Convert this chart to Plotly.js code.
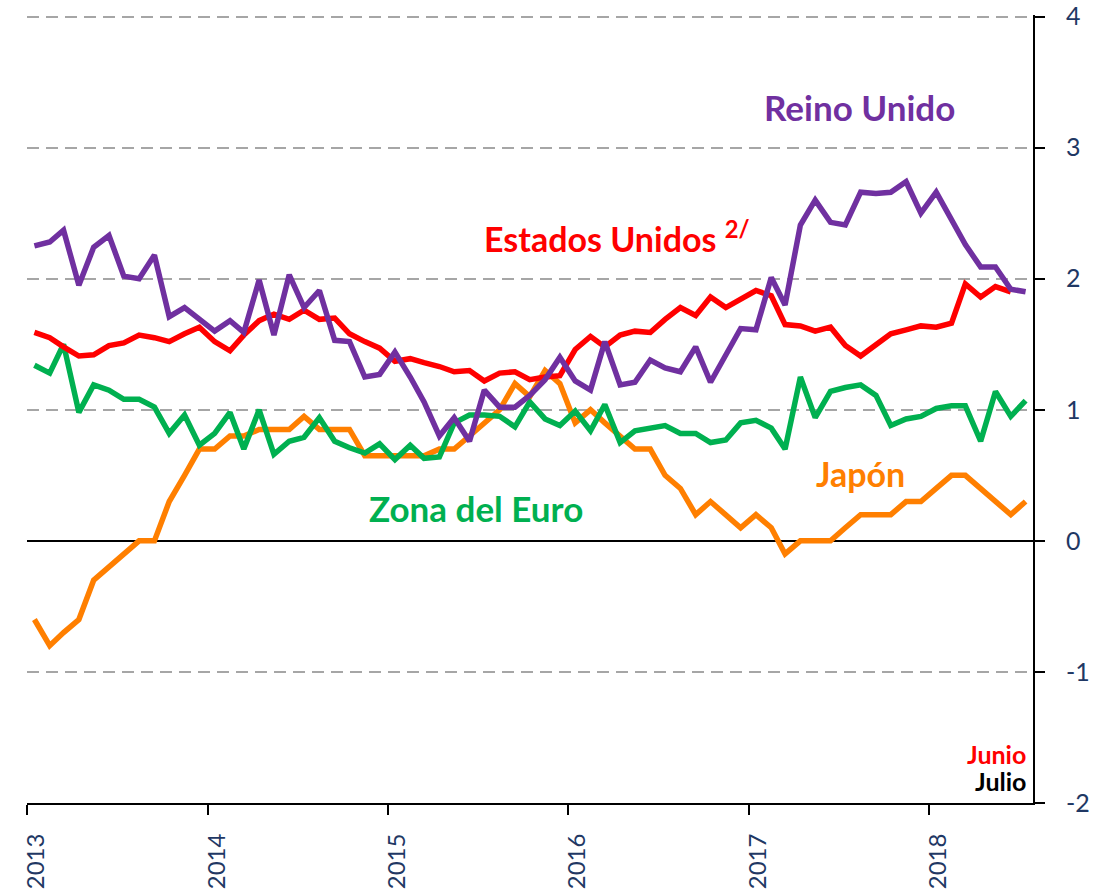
<!DOCTYPE html>
<html>
<head>
<meta charset="utf-8">
<script src="https://cdn.plot.ly/plotly-3.0.1.min.js"></script>
<style>
html,body{margin:0;padding:0;background:#fff;}
#chart{width:1107px;height:893px;}
</style>
</head>
<body>
<div id="chart"></div>
<script>
// Monthly observations, January 2013 - July 2018
var startYear = 2013;
var nMonths = 67;
var months = [];
for (var i = 0; i < nMonths; i++) {
  var y = startYear + Math.floor(i / 12);
  var m = (i % 12) + 1;
  months.push(y + '-' + (m < 10 ? '0' + m : m) + '-15');
}

var reinoUnido = [2.25,2.28,2.37,1.95,2.24,2.33,2.02,2.00,2.18,1.71,1.78,1.69,
  1.60,1.68,1.59,1.99,1.57,2.03,1.78,1.91,1.53,1.52,1.25,1.27,
  1.44,1.25,1.06,0.80,0.94,0.76,1.15,1.02,1.02,1.11,1.23,1.40,
  1.22,1.15,1.52,1.19,1.21,1.38,1.32,1.29,1.48,1.21,1.41,1.62,
  1.61,2.01,1.80,2.41,2.60,2.43,2.41,2.66,2.65,2.66,2.74,2.50,
  2.66,2.44,2.26,2.09,2.09,1.92,1.90];

var estadosUnidos = [1.59,1.55,1.48,1.41,1.42,1.49,1.51,1.57,1.55,1.52,1.58,1.63,
  1.52,1.45,1.57,1.68,1.73,1.69,1.76,1.69,1.70,1.58,1.52,1.47,
  1.37,1.39,1.36,1.33,1.29,1.30,1.22,1.28,1.29,1.23,1.25,1.26,
  1.46,1.56,1.48,1.57,1.60,1.59,1.69,1.78,1.72,1.86,1.78,1.85,
  1.91,1.87,1.65,1.64,1.60,1.63,1.49,1.41,1.49,1.58,1.61,1.64,
  1.63,1.66,1.96,1.86,1.94,1.90];

var zonaEuro = [1.34,1.28,1.50,0.98,1.19,1.15,1.08,1.08,1.02,0.82,0.96,0.73,
  0.82,0.98,0.70,1.00,0.66,0.76,0.79,0.94,0.76,0.71,0.67,0.74,
  0.62,0.73,0.63,0.64,0.90,0.96,0.96,0.95,0.87,1.06,0.93,0.88,
  0.99,0.84,1.04,0.75,0.84,0.86,0.88,0.82,0.82,0.75,0.77,0.90,
  0.92,0.86,0.70,1.25,0.94,1.14,1.17,1.19,1.11,0.88,0.93,0.95,
  1.01,1.03,1.03,0.76,1.14,0.95,1.07];

var japon = [-0.6,-0.8,-0.7,-0.6,-0.3,-0.2,-0.1,0.0,0.0,0.3,0.5,0.7,
  0.7,0.8,0.8,0.85,0.85,0.85,0.95,0.85,0.85,0.85,0.65,0.65,
  0.65,0.65,0.65,0.7,0.7,0.8,0.9,1.0,1.2,1.1,1.3,1.2,
  0.9,1.0,0.9,0.8,0.7,0.7,0.5,0.4,0.2,0.3,0.2,0.1,
  0.2,0.1,-0.1,0.0,0.0,0.0,0.1,0.2,0.2,0.2,0.3,0.3,
  0.4,0.5,0.5,0.4,0.3,0.2,0.3];

var yearTicks = ['2013-01-01','2014-01-01','2015-01-01','2016-01-01','2017-01-01','2018-01-01'];
var yearLabels = ['2013','2014','2015','2016','2017','2018'];
var yTickVals = [-2, -1, 0, 1, 2, 3, 4];
var yTickLabels = ['-2', '-1', '0', '1', '2', '3', '4'];

var colors = {uk:'#7030A0', us:'#FF0000', euro:'#00B050', jp:'#FF7F00'};
var FONT = 'Lato, "Open Sans", sans-serif';

function series(vals, color, name) {
  return {
    x: months.slice(0, vals.length), y: vals, name: name,
    type: 'scatter', mode: 'lines',
    line: {color: color, width: 5.5, shape: 'linear'},
    hoverinfo: 'x+y'
  };
}

var data = [
  series(japon, colors.jp, 'Japón'),
  series(zonaEuro, colors.euro, 'Zona del Euro'),
  series(estadosUnidos, colors.us, 'Estados Unidos'),
  series(reinoUnido, colors.uk, 'Reino Unido')
];

var layout = {
  width: 1107, height: 893,
  margin: {l: 27, r: 74, t: 15, b: 90},
  paper_bgcolor: '#ffffff', plot_bgcolor: '#ffffff',
  showlegend: false,
  font: {family: FONT, color: '#1F3864'},
  xaxis: {
    type: 'date',
    range: ['2012-12-31', '2018-07-30'],
    tickmode: 'array', tickvals: yearTicks, ticktext: yearLabels,
    tickangle: -90,
    ticks: 'outside', ticklen: 10, tickwidth: 2, tickcolor: '#000',
    showline: true, linecolor: '#000', linewidth: 2,
    showgrid: false, zeroline: false,
    tickfont: {family: FONT, size: 24, color: '#1F3864'},
    ticklabelshift: 9, ticklabelstandoff: 9
  },
  yaxis: {
    side: 'right',
    range: [-2, 4.012],
    tickmode: 'array', tickvals: yTickVals, ticktext: yTickLabels,
    ticks: 'outside', ticklen: 10, tickwidth: 2, tickcolor: '#000',
    showline: true, linecolor: '#000', linewidth: 2,
    showgrid: true, gridcolor: '#A6A6A6', gridwidth: 2, griddash: '12px,7px',
    zeroline: true, zerolinecolor: '#000', zerolinewidth: 1.5,
    tickfont: {family: FONT, size: 25, color: '#1F3864'},
    ticklabelstandoff: 16
  },
  annotations: [
    {xref:'paper', yref:'paper', x:0.828, y:0.883, text:'<b>Reino Unido</b>', showarrow:false,
     font:{family:FONT, size:35, color:colors.uk}, xanchor:'center', yanchor:'middle'},
    {xref:'paper', yref:'paper', x:0.586, y:0.718, text:'<b>Estados Unidos <sup>2/</sup></b>', showarrow:false,
     font:{family:FONT, size:34, color:colors.us}, xanchor:'center', yanchor:'middle'},
    {xref:'paper', yref:'paper', x:0.446, y:0.374, text:'<b>Zona del Euro</b>', showarrow:false,
     font:{family:FONT, size:35, color:colors.euro}, xanchor:'center', yanchor:'middle'},
    {xref:'paper', yref:'paper', x:0.829, y:0.418, text:'<b>Japón</b>', showarrow:false,
     font:{family:FONT, size:34, color:colors.jp}, xanchor:'center', yanchor:'middle'},
    {xref:'paper', yref:'paper', x:0.995, y:0.062, text:'<b>Junio</b>', showarrow:false,
     font:{family:FONT, size:25, color:colors.us}, xanchor:'right', yanchor:'middle'},
    {xref:'paper', yref:'paper', x:0.995, y:0.028, text:'<b>Julio</b>', showarrow:false,
     font:{family:FONT, size:25, color:'#000000'}, xanchor:'right', yanchor:'middle'}
  ]
};

Plotly.newPlot('chart', data, layout, {displayModeBar: false, staticPlot: true});
</script>
</body>
</html>
